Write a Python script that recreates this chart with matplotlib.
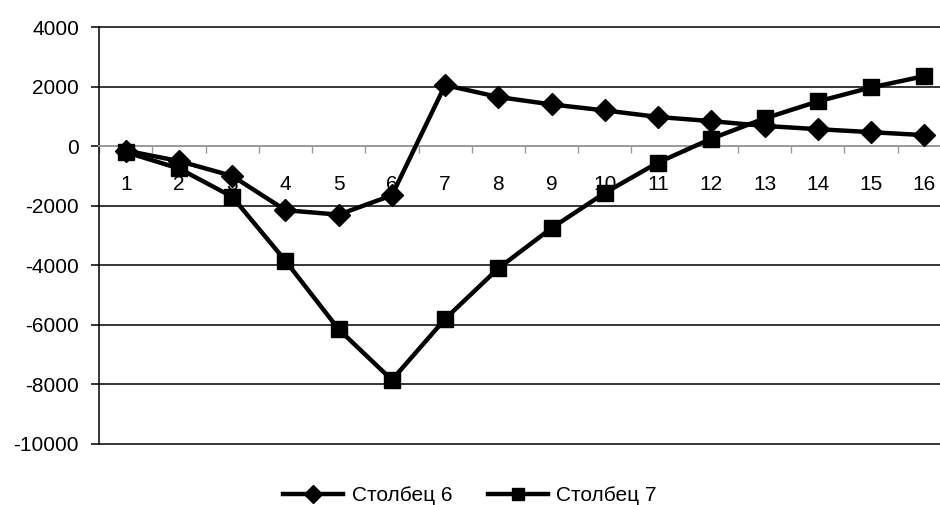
import matplotlib
matplotlib.use("Agg")
import matplotlib.pyplot as plt
from matplotlib.ticker import FixedLocator

plt.rcParams['font.family'] = ['Liberation Sans', 'DejaVu Sans']

categories = [str(i) for i in range(1, 17)]
series6 = [-150, -500, -1000, -2150, -2300, -1650, 2050, 1650, 1400, 1200, 980, 840, 680, 570, 470, 370]
series7 = [-200, -750, -1700, -3850, -6150, -7850, -5800, -4100, -2750, -1570, -550, 250, 930, 1500, 1970, 2350]
labels = ['Столбец 6', 'Столбец 7']
yticks = [-10000, -8000, -6000, -4000, -2000, 0, 2000, 4000]

fig = plt.figure(figsize=(9.4, 5.05), dpi=100)
ax = fig.add_axes([0.1055, 0.1208, 0.906, 0.8257])

x = list(range(1, len(categories) + 1))
ax.plot(x, series6, color='black', lw=3.2, marker='D', markersize=11, label=labels[0], zorder=5)
ax.plot(x, series7, color='black', lw=3.2, marker='s', markersize=11, label=labels[1], zorder=5)

ax.set_xlim(0.5, 16.5)
ax.set_ylim(-10000, 4000)
ax.set_yticks(yticks)
ax.set_yticklabels([str(v) for v in yticks], fontsize=15)
for v in yticks:
    if v != 0:
        ax.axhline(v, color='black', lw=1.1, zorder=1, clip_on=False)

for s in ['top', 'right']:
    ax.spines[s].set_visible(False)
ax.spines['left'].set_color('black')
ax.spines['left'].set_linewidth(1.1)
ax.spines['bottom'].set_position(('data', 0))
ax.spines['bottom'].set_color('#999999')
ax.spines['bottom'].set_linewidth(1.4)

ax.tick_params(axis='y', direction='out', length=5.5, width=1.1, color='black', pad=9)
ax.set_xticks(x)
ax.set_xticklabels(categories, fontsize=15)
ax.tick_params(axis='x', which='major', length=0, pad=21)
ax.xaxis.set_minor_locator(FixedLocator([i + 0.5 for i in range(0, 17)]))
ax.tick_params(axis='x', which='minor', direction='out', length=5, width=1.0, color='#999999')

fig.legend(loc='lower center', bbox_to_anchor=(0.5, -0.037), ncol=2, frameon=False,
           fontsize=15, handlelength=2.9, handletextpad=0.4, columnspacing=1.7,
           markerscale=0.8)

fig.savefig('out.png', dpi=100)
